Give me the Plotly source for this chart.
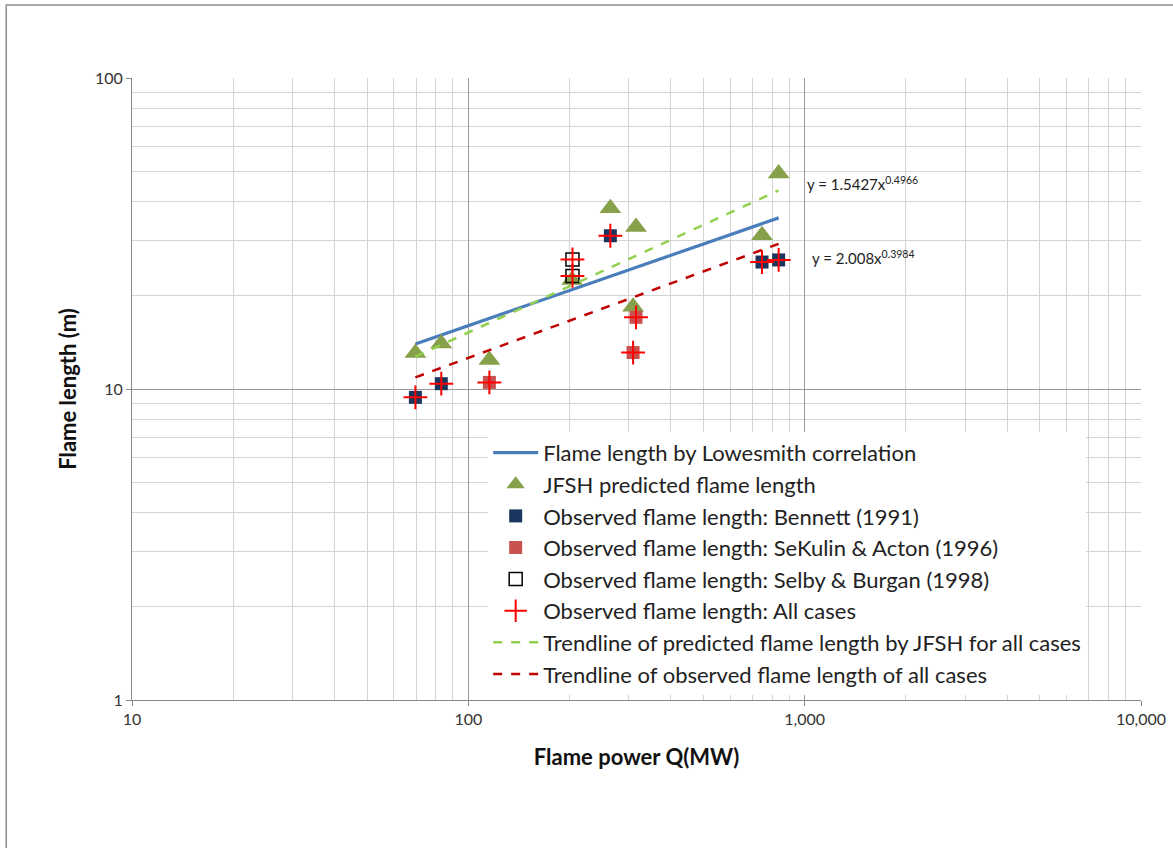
import plotly.graph_objects as go
import math

# ---- data ----
jfsh_q = [69.6, 83.1, 115.5, 203.4, 264.4, 315.2, 308.9, 746.8, 836.8]
jfsh_len = [13.05, 14.0, 12.4, 22.4, 38.1, 33.2, 18.4, 31.2, 49.3]

bennett_q = [69.6, 83.1, 264.4, 746.8, 836.8]
bennett_len = [9.40, 10.4, 31.1, 25.6, 26.0]

sekulin_q = [115.5, 315.2, 308.9]
sekulin_len = [10.5, 17.0, 13.1]

selby_q = [204.0, 204.0]
selby_len = [26.1, 23.1]

all_q = bennett_q + sekulin_q + selby_q
all_len = bennett_len + sekulin_len + selby_len

lowesmith_q = [69.6, 836.8]
lowesmith_len = [13.95, 35.5]

trend_jfsh_q = [69.6, 836.8]
trend_jfsh_len = [12.7, 43.5]

trend_obs_q = [69.6, 836.8]
trend_obs_len = [10.9, 29.3]

eq_labels = ["y = 1.5427x<sup>0.4966</sup>", "y = 2.008x<sup>0.3984</sup>"]
eq_pos_q = [1005, 1040]
eq_pos_len = [45.9, 26.5]

FONT = "Lato"

fig = go.Figure()
fig.add_trace(go.Scatter(x=lowesmith_q, y=lowesmith_len, mode="lines",
                         line=dict(color="#4A7EBB", width=3.2),
                         name="Flame length by Lowesmith correlation"))
fig.add_trace(go.Scatter(x=jfsh_q, y=jfsh_len, mode="markers",
                         marker=dict(symbol="triangle-up", size=19, color="#87A04A"),
                         name="JFSH predicted flame length"))
fig.add_trace(go.Scatter(x=bennett_q, y=bennett_len, mode="markers",
                         marker=dict(symbol="square", size=13, color="#1B365E"),
                         name="Observed flame length: Bennett (1991)"))
fig.add_trace(go.Scatter(x=sekulin_q, y=sekulin_len, mode="markers",
                         marker=dict(symbol="square", size=13, color="#C8524F"),
                         name="Observed flame length: SeKulin & Acton (1996)"))
fig.add_trace(go.Scatter(x=selby_q, y=selby_len, mode="markers",
                         marker=dict(symbol="square-open", size=13, color="black",
                                     line=dict(width=1.5)),
                         name="Observed flame length: Selby & Burgan (1998)"))
fig.add_trace(go.Scatter(x=all_q, y=all_len, mode="markers",
                         marker=dict(symbol="cross-thin", size=17,
                                     line=dict(color="#FF0000", width=2)),
                         name="Observed flame length: All cases"))
fig.add_trace(go.Scatter(x=trend_jfsh_q, y=trend_jfsh_len, mode="lines",
                         line=dict(color="#92D050", width=2.5, dash="dash"),
                         name="Trendline of predicted flame length by JFSH for all cases"))
fig.add_trace(go.Scatter(x=trend_obs_q, y=trend_obs_len, mode="lines",
                         line=dict(color="#C00000", width=2.5, dash="dash"),
                         name="Trendline of observed flame length of all cases"))

for txt, q, l in zip(eq_labels, eq_pos_q, eq_pos_len):
    fig.add_annotation(x=math.log10(q), y=math.log10(l), xref="x", yref="y",
                       xanchor="left", yanchor="middle",
                       text=txt, showarrow=False,
                       font=dict(family=FONT, size=15, color="#222"))

# outer chart frame
fig.add_shape(type="rect", xref="paper", yref="paper",
              x0=-0.1246, x1=2, y0=-1, y1=1.1173,
              line=dict(color="#8c8c8c", width=1.5), layer="below")

axis_common = dict(type="log", showline=True, linecolor="#888", linewidth=1,
                   gridcolor="#9a9a9a", gridwidth=1, ticks="outside",
                   ticklen=5, tickcolor="#888", mirror=False, zeroline=False,
                   automargin=False,
                   tickfont=dict(family=FONT, size=16, color="#333"),
                   minor=dict(showgrid=True, gridcolor="#d4d4d4", gridwidth=1,
                              ticks=""))

fig.update_xaxes(**axis_common, range=[1, 4], dtick=1, tickformat=",",
                 title=dict(text="<b>Flame power Q(MW)</b>", standoff=22,
                            font=dict(family=FONT, size=22, color="#111")))
fig.update_yaxes(**axis_common, range=[0, 2], dtick=1,
                 title=dict(text="<b>Flame length (m)</b>", standoff=12,
                            font=dict(family=FONT, size=22, color="#111")))

fig.update_layout(
    width=1173, height=848,
    margin=dict(l=132, r=32, t=78, b=148),
    paper_bgcolor="white", plot_bgcolor="white",
    showlegend=True,
    legend=dict(x=0.353, y=0.431, xanchor="left", yanchor="top",
                bgcolor="white", borderwidth=0,
                font=dict(family=FONT, size=22, color="#222"),
                tracegroupgap=0, itemwidth=45),
)

fig.write_html("out.html",
               config={"displayModeBar": False},
               post_script="document.body.style.margin='0';document.body.style.overflow='hidden';")
